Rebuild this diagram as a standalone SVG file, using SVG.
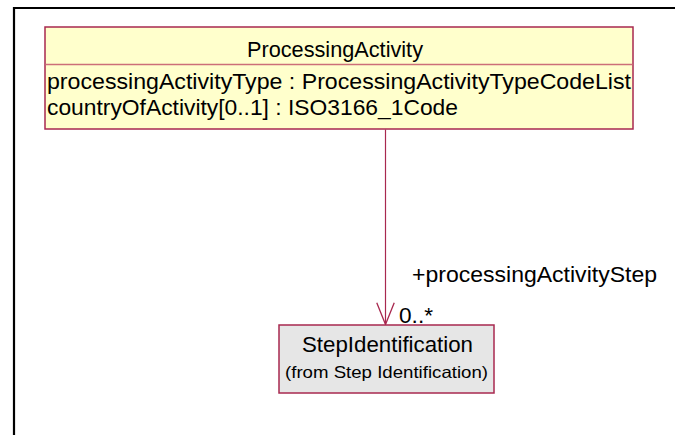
<svg xmlns="http://www.w3.org/2000/svg" width="675" height="435" viewBox="0 0 675 435">
<style>
  text { font-family: "Liberation Sans", Arial, sans-serif; fill: #000; }
  .t { font-size: 22px; }
  .s { font-size: 16.5px; }
  .box { stroke: #a8284f; stroke-width: 1.5; }
  .div { stroke: #cc6f78; stroke-width: 1.5; }
  .conn { stroke: #a8284f; stroke-width: 1.2; fill: none; }
</style>
<defs>
  <marker id="open" markerUnits="userSpaceOnUse" markerWidth="20" markerHeight="24" refX="9" refY="21" orient="0" viewBox="0 0 18 22">
    <path d="M1,1 L9,21 L17,1" fill="none" stroke="#a8284f" stroke-width="1.2"/>
  </marker>
</defs>
<rect x="0" y="0" width="675" height="435" fill="#fff"/>
<g id="frame">
  <path d="M14,435 L14,8 L675,8" fill="none" stroke="#000" stroke-width="2.2"/>
</g>
<g id="connectors">
  <path class="conn" d="M385.5,129.5 L385.5,324.5" marker-end="url(#open)"/>
  <text class="t" x="412" y="282" textLength="245" lengthAdjust="spacingAndGlyphs">+processingActivityStep</text>
  <text class="t" x="399" y="323" textLength="34" lengthAdjust="spacingAndGlyphs">0..*</text>
</g>
<g id="ProcessingActivity">
  <rect class="box" x="45" y="27" width="588" height="102" fill="#ffffcc"/>
  <line class="div" x1="45.5" y1="64.5" x2="632.5" y2="64.5"/>
  <text class="t" x="247" y="57" textLength="176" lengthAdjust="spacingAndGlyphs">ProcessingActivity</text>
  <text class="t" x="47" y="89" textLength="584" lengthAdjust="spacingAndGlyphs">processingActivityType : ProcessingActivityTypeCodeList</text>
  <text class="t" x="47" y="115" textLength="411" lengthAdjust="spacingAndGlyphs">countryOfActivity[0..1] : ISO3166_1Code</text>
</g>
<g id="StepIdentification">
  <rect class="box" x="279" y="325" width="215" height="68" fill="#e6e6e6"/>
  <text class="t" x="302" y="352" textLength="171" lengthAdjust="spacingAndGlyphs">StepIdentification</text>
  <text class="s" x="285" y="378" textLength="203" lengthAdjust="spacingAndGlyphs">(from Step Identification)</text>
</g>
</svg>
